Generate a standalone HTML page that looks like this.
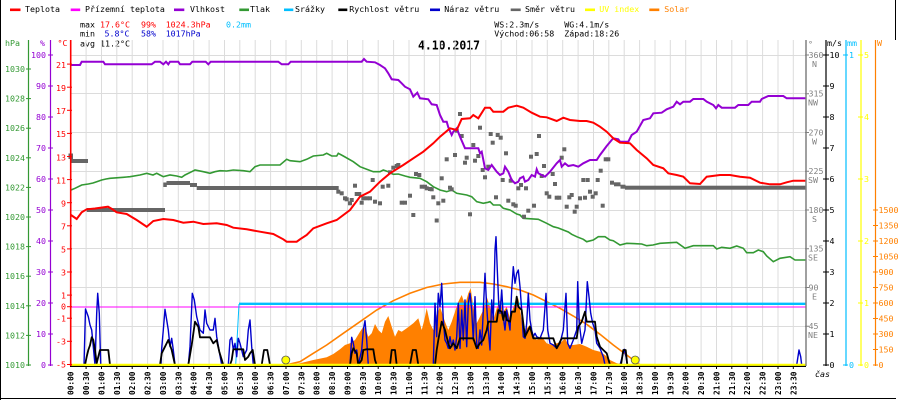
<!DOCTYPE html>
<html><head><meta charset="utf-8"><style>
html,body{margin:0;padding:0;background:#fff;}
svg{display:block;}
.t{font-family:"DejaVu Sans Mono","Liberation Mono",monospace;font-size:8.3px;}
.b{font-family:"DejaVu Sans Mono","Liberation Mono",monospace;font-size:8px;font-weight:bold;}
</style></head><body>
<svg width="900" height="400" viewBox="0 0 900 400" xmlns="http://www.w3.org/2000/svg">
<rect width="900" height="400" fill="#fff"/>
<!-- frame -->
<line x1="0.5" y1="0" x2="0.5" y2="400" stroke="#000"/>
<line x1="0" y1="398.5" x2="896" y2="398.5" stroke="#000"/>
<line x1="895.5" y1="0" x2="895.5" y2="40" stroke="#000"/>

<!-- legend -->
<g class="t">
<rect x="10" y="8.5" width="10.5" height="2.6" fill="#f00"/><text x="25" y="12">Teplota</text>
<rect x="70.7" y="8.5" width="9.5" height="2.6" fill="#f0f"/><text x="85" y="12">Přízemní teplota</text>
<rect x="174" y="8.5" width="10.3" height="2.6" fill="#9400d3"/><text x="190" y="12">Vlhkost</text>
<rect x="239.3" y="8.5" width="9.7" height="2.6" fill="#339933"/><text x="250" y="12">Tlak</text>
<rect x="284" y="8.5" width="9.3" height="2.6" fill="#00bfff"/><text x="295" y="12">Srážky</text>
<rect x="338.3" y="8.5" width="9" height="2.6" fill="#000"/><text x="349.3" y="12">Rychlost větru</text>
<rect x="430" y="8.5" width="10" height="2.6" fill="#0000cc"/><text x="444.3" y="12">Náraz větru</text>
<rect x="510.7" y="8.5" width="10" height="2.6" fill="#666"/><text x="525" y="12">Směr větru</text>
<rect x="585" y="8.5" width="10" height="2.6" fill="#ffff00"/><text x="599.3" y="12" fill="#ffff00">UV index</text>
<rect x="649.3" y="8.5" width="10" height="2.6" fill="#ff8000"/><text x="664.3" y="12" fill="#ff8000">Solar</text>

<text x="80" y="27.3">max</text><text x="100" y="27.3" fill="#f00">17.6°C</text><text x="141" y="27.3" fill="#f00">99%</text><text x="165.7" y="27.3" fill="#f00">1024.3hPa</text><text x="226" y="27.3" fill="#00bfff">0.2mm</text>
<text x="80" y="36.7">min</text><text x="104.5" y="36.7" fill="#0000cc">5.8°C</text><text x="141" y="36.7" fill="#0000cc">58%</text><text x="165.7" y="36.7" fill="#0000cc">1017hPa</text>
<text x="80" y="46.5">avg 11.2°C</text>
<text x="494.3" y="27.3">WS:2.3m/s</text><text x="564.3" y="27.3">WG:4.1m/s</text>
<text x="494.3" y="36.7">Východ:06:58</text><text x="564.3" y="36.7">Západ:18:26</text>
</g>
<text x="418" y="49.3" textLength="62" lengthAdjust="spacingAndGlyphs" style="font-family:'DejaVu Sans Mono','Liberation Mono',monospace;font-size:12px;font-weight:bold">4.10.2017</text>

<!-- grid -->
<g stroke="#dcdcdc" stroke-width="1">
<line x1="86.1" y1="40" x2="86.1" y2="365"/><line x1="101.5" y1="40" x2="101.5" y2="365"/><line x1="116.8" y1="40" x2="116.8" y2="365"/><line x1="132.2" y1="40" x2="132.2" y2="365"/><line x1="147.6" y1="40" x2="147.6" y2="365"/><line x1="163" y1="40" x2="163" y2="365"/><line x1="178.3" y1="40" x2="178.3" y2="365"/><line x1="193.7" y1="40" x2="193.7" y2="365"/><line x1="209.1" y1="40" x2="209.1" y2="365"/><line x1="224.5" y1="40" x2="224.5" y2="365"/><line x1="239.8" y1="40" x2="239.8" y2="365"/><line x1="255.2" y1="40" x2="255.2" y2="365"/><line x1="270.6" y1="40" x2="270.6" y2="365"/><line x1="286" y1="40" x2="286" y2="365"/><line x1="301.3" y1="40" x2="301.3" y2="365"/><line x1="316.7" y1="40" x2="316.7" y2="365"/><line x1="332.1" y1="40" x2="332.1" y2="365"/><line x1="347.5" y1="40" x2="347.5" y2="365"/><line x1="362.8" y1="40" x2="362.8" y2="365"/><line x1="378.2" y1="40" x2="378.2" y2="365"/><line x1="393.6" y1="40" x2="393.6" y2="365"/><line x1="409" y1="40" x2="409" y2="365"/><line x1="424.3" y1="40" x2="424.3" y2="365"/><line x1="439.7" y1="40" x2="439.7" y2="365"/><line x1="455.1" y1="40" x2="455.1" y2="365"/><line x1="470.5" y1="40" x2="470.5" y2="365"/><line x1="485.8" y1="40" x2="485.8" y2="365"/><line x1="501.2" y1="40" x2="501.2" y2="365"/><line x1="516.6" y1="40" x2="516.6" y2="365"/><line x1="532" y1="40" x2="532" y2="365"/><line x1="547.3" y1="40" x2="547.3" y2="365"/><line x1="562.7" y1="40" x2="562.7" y2="365"/><line x1="578.1" y1="40" x2="578.1" y2="365"/><line x1="593.5" y1="40" x2="593.5" y2="365"/><line x1="608.8" y1="40" x2="608.8" y2="365"/><line x1="624.2" y1="40" x2="624.2" y2="365"/><line x1="639.6" y1="40" x2="639.6" y2="365"/><line x1="655" y1="40" x2="655" y2="365"/><line x1="670.3" y1="40" x2="670.3" y2="365"/><line x1="685.7" y1="40" x2="685.7" y2="365"/><line x1="701.1" y1="40" x2="701.1" y2="365"/><line x1="716.5" y1="40" x2="716.5" y2="365"/><line x1="731.8" y1="40" x2="731.8" y2="365"/><line x1="747.2" y1="40" x2="747.2" y2="365"/><line x1="762.6" y1="40" x2="762.6" y2="365"/><line x1="778" y1="40" x2="778" y2="365"/><line x1="793.3" y1="40" x2="793.3" y2="365"/>
<line x1="71" y1="55.5" x2="806" y2="55.5"/><line x1="71" y1="93.5" x2="806" y2="93.5"/><line x1="71" y1="132.5" x2="806" y2="132.5"/><line x1="71" y1="171.5" x2="806" y2="171.5"/><line x1="71" y1="210.5" x2="806" y2="210.5"/><line x1="71" y1="248.5" x2="806" y2="248.5"/><line x1="71" y1="287.5" x2="806" y2="287.5"/><line x1="71" y1="326.5" x2="806" y2="326.5"/>
</g>

<!-- solar fill -->
<polygon fill="#ff8000" points="285,365 300,363.3 313.3,360 326.7,357.3 333.3,354 340,349.3 345,345 350,343.3 355,340 360,331.7 363.3,326.7 366,330 368.3,336.7 371.7,333.3 375,324 378.3,330 381.7,333.3 385,321.7 388.3,316 391.7,326.7 395,336.7 398.3,330 401.7,331.7 406.7,328.3 413.3,323.3 418.3,318.3 421.7,330 424.3,320 426.7,308.3 430,323.3 433.3,330 436.7,315 440,306.7 445,321.7 448.3,330 451.7,321.7 455,311.7 458.3,301.7 461.7,295 465,305 468.3,293.3 470.7,288.3 473.3,306.7 476.7,323.3 480,316.7 483.3,310 486.7,296.7 490,306.7 493.3,320 496.7,308.3 500,300 503.3,311.7 506.7,306.7 510,318.3 515,301.7 518.3,298.3 521.7,320 525,330 530,325 533.3,335 536.7,340 541.7,336.7 546.7,343.3 551.7,345 556.7,343.3 561.7,341.7 565,338.3 568.3,345 573.3,345 580,344 586.7,346.7 593.3,350 600,351.7 605,355 610,360 616.7,363.3 626.7,365"/>
<polyline fill="none" stroke="#ff8000" stroke-width="1.6" points="285,365 290,364 300,361.7 313.3,353.3 326.7,345 343.3,333.3 360,321.7 376.7,310 393.3,300.7 410,293.3 426.7,287.5 443.3,284 460,282.3 480,282.3 493.3,284 506.7,286.7 520,290 533.3,295 546.7,301.7 560,308.3 573.3,316 586.7,324.3 600,334.3 613.3,345 626.7,355 640,365"/>

<!-- magenta 0 line & rain -->
<line x1="71" y1="307" x2="806" y2="307" stroke="#f0f" stroke-width="1"/>
<polyline fill="none" stroke="#00bfff" stroke-width="1" points="235.7,365 239,304"/>
<line x1="239" y1="303.8" x2="806" y2="303.8" stroke="#00bfff" stroke-width="2.4"/>

<!-- gusts -->
<polyline fill="none" stroke="#0000cc" stroke-width="1.4" stroke-linejoin="round" points="71,365 84,365 85.5,309 88.3,316.7 90,325 91.7,330 93.3,346.7 95,365 96.7,313.3 97.7,293.3 99.3,313.3 100.7,365 161,365 161.7,348.3 163.3,330 165,309.3 166.7,320 168.3,330 170,346.7 171.7,338.3 173.3,350 175,365 188.3,365 190,346.7 192.3,293.3 194.3,300 196.7,316.7 200,330 203.3,333.3 205,310 206.7,323.3 210,330 213.3,330 215,318.3 216.7,336.7 219.3,351.7 221.7,365 228.3,365 230,340 231.7,337.3 233.3,350 235,343.3 236.7,356.7 238.3,338.3 240,343.3 243.3,356.7 246.7,350 248.3,330 250,320 251.7,346.7 253.3,365 350,365 351.7,337.3 353.3,343.3 355,353.3 356.7,350 358.3,365 361.7,350 363.3,330 365,320.7 366.7,340 368.3,365 433.3,365 435,303.3 436.7,336.7 438.3,293.3 440,306.7 441.7,283.3 443.3,320 445,340 446.7,343.3 448.3,348.3 450,336.7 451.7,346.7 453.3,340 455,350 456.7,336.7 458.3,303.3 460,348.3 461.7,310 463.3,340 465,300 466.7,346.7 468.3,303.3 470,293.3 471.7,310 473.3,340 475,296.7 476.7,343.3 478.3,348.3 480,330 481.7,345 483.3,310 485,273.3 486.7,306.7 488.3,330 490,350 491.7,300 493.3,320 495,250 496,236.7 497.3,270 498.7,303.3 500,313.3 501.7,290 503.3,316.7 505,330 506.7,310 508.3,320 510,330 511.7,290 513.3,266.7 515,283.3 516.7,273.3 518.3,270 520,286.7 521.7,310 523.3,336.7 525,338.3 526.7,323.3 528.3,293.3 530,320 531.7,330 533.3,336.7 535,333.3 536.7,336.7 540,338.3 543.3,330 546,293.3 547.7,330 550,343.3 553.3,345 556.7,348.3 560,343.3 563.3,330 566,293.3 567.7,343.3 570,348.3 573.3,340 576.7,330 577.7,281.7 579.3,323.3 581.7,343.3 585,330 587.3,281.7 589,296.7 590.7,313.3 592.7,323.3 595,330 596.7,343.3 600,348.3 603.3,356.7 605,365 620,365 622.7,355 624.3,349.3 626,356.7 627.3,365 796.7,365 799,350 800.7,356.7 801.7,365 806,365"/>

<!-- wind speed -->
<polyline fill="none" stroke="#000" stroke-width="1.8" stroke-linejoin="round" points="71,365 85,365 86.7,356.7 88.3,350 90,345.3 91.7,337.3 93.3,340 95,350 96.7,363.3 98.3,356.7 100,350 108.3,350 110,365 160,365 161.7,353.3 165,346.7 168.3,340 171.7,350 175,365 188.3,365 191.7,345 195,321.7 198.3,326.7 200,337.3 210,337.3 213.3,343.3 216.7,340 219.3,351.7 223.3,365 230,365 231.7,360 233.3,349.3 243.3,349.3 245,360 248.3,356.7 250,353.3 252.7,350 255,365 261.7,365 264,350 267.3,350 270,365 350,365 351.7,353.3 353.3,348.3 356.7,353.3 358.3,365 361.7,360 363.3,350 366.7,349.3 373.3,349.3 375,360 376.7,365 390,365 391.7,350 395,350 396.7,365 410,365 412.7,350 416,350 418.3,365 435,365 436.7,350 438.3,340 441.7,321.7 445,330 448.3,343.3 450,348.3 453.3,343.3 456.7,348.3 460,338.3 473.3,338.3 476.7,348.3 480,343.3 483.3,340 486.7,330 488.3,321.7 496.7,321.7 498.3,310 501.7,311.7 503.3,320 505,311.7 506.7,320 510,321.7 511.7,311.7 515,311.7 516.7,296.7 518.3,306.7 521.7,310 523.3,323.3 525,336.7 528.3,330 530,326.7 533.3,338.3 553.3,338.3 555,343.3 556.7,348.3 559.3,343.3 561.7,338.3 576.7,338.3 578.3,326.7 581.7,321.7 585,311.7 586.7,321.7 595,321.7 596.7,336.7 600,346.7 603.3,350 606.7,353.3 610,365 621,365 623.3,350 625.7,350 627.3,365 806,365"/>

<!-- pressure -->
<polyline fill="none" stroke="#339933" stroke-width="1.6" points="71,190 75,188.3 81.7,185 88.3,184 93,183 96.7,181.7 101.7,180 106,179 110,178.3 123.3,177.3 130,176.7 140,175 146.7,173.3 153,175 156.7,173.3 160,175 163.3,176.7 170,175 176.7,176 181.7,177.3 185,175 191.7,171.7 195,170 203.3,171.7 210,173.3 215,171.7 220,170.7 226.7,171 233.3,170 243.3,170.7 250,171.7 255,166.7 260,165 280,165 286.7,159.3 290,160.7 300,161.7 306.7,159.3 313.3,156 323.3,155 326.7,153.3 331.7,156 336.7,156 338.3,153.3 343.3,156 353.3,161.7 360,166.7 366.7,169.3 373.3,171.7 380,171.7 383.3,170 388.3,171.7 393.3,174.3 398.3,174 405,176 410,177.3 420,178.3 426.7,181.7 433.3,186.7 440,190 446.7,191.7 451.7,190 456.7,193.3 466.7,195 471.7,196.7 476.7,201.7 483.3,203.3 488,202.3 490,201.7 493.3,205 500,205 503.3,208.3 510,210 516.7,214 520,215 523.3,218.3 538.3,219.3 546.7,223.3 553.3,226.7 558.3,228 563.3,230 568.3,232 571.7,234.3 576.7,236.7 583.3,239.3 586.7,241.7 593.3,240 598.3,236.7 605,236.7 610,240 613.3,240.7 620,245 626.7,243.3 641.7,244 646.7,245.7 653,245 660,243.3 676.7,242.3 685,248.3 693.3,245.7 713.3,245.7 716.7,249 721.7,247.3 730,248.3 736.7,246 743.3,248.3 746.7,252.7 753.3,252.7 758.3,250 763.3,251.7 766.7,256 773.3,261.7 780,258.3 790,256.7 795,260 806,260"/>

<!-- wind direction -->
<g fill="#666">
<rect x="68.5" y="153.5" width="4.5" height="5.5"/>
<rect x="71" y="159" width="17" height="4"/>
<rect x="86.7" y="208" width="78.3" height="4"/>
<rect x="163.3" y="182.5" width="3.5" height="4.5"/>
<rect x="166.5" y="181" width="23.5" height="4"/>
<rect x="190" y="183" width="7" height="4"/>
<rect x="196.7" y="186" width="142" height="4"/>
<rect x="610" y="180.7" width="4" height="4"/>
<rect x="614" y="182.3" width="6.5" height="4"/>
<rect x="620.5" y="184.7" width="5" height="4"/>
<rect x="625" y="185.7" width="181" height="4"/>
</g>
<g fill="#666" id="sq">
<rect x="336.3" y="189.7" width="4" height="4"/><rect x="339.7" y="191.3" width="4" height="4"/><rect x="343" y="196.3" width="4" height="4"/><rect x="344.7" y="197.3" width="4" height="4"/><rect x="348" y="201.3" width="4" height="4"/><rect x="349.7" y="198" width="4" height="4"/><rect x="353" y="183.7" width="4" height="4"/><rect x="354.7" y="192" width="4" height="4"/><rect x="357.3" y="192" width="4" height="4"/><rect x="359.7" y="200.7" width="4" height="4"/><rect x="361.3" y="196.3" width="4" height="4"/><rect x="364.7" y="196.3" width="4" height="4"/><rect x="368" y="196.3" width="4" height="4"/><rect x="370.7" y="178" width="4" height="4"/><rect x="373" y="199.7" width="4" height="4"/><rect x="378" y="201.3" width="4" height="4"/><rect x="380.7" y="184.7" width="4" height="4"/><rect x="386.3" y="183.7" width="4" height="4"/><rect x="388" y="170.3" width="4" height="4"/><rect x="391.3" y="165.7" width="4" height="4"/><rect x="394.7" y="164" width="4" height="4"/><rect x="396.3" y="163" width="4" height="4"/><rect x="399.7" y="200.7" width="4" height="4"/><rect x="403" y="200.7" width="4" height="4"/><rect x="408" y="193.7" width="4" height="4"/><rect x="411.3" y="213" width="4" height="4"/><rect x="414" y="172" width="4" height="4"/><rect x="417.3" y="173" width="4" height="4"/><rect x="419.7" y="184.7" width="4" height="4"/><rect x="423" y="184.7" width="4" height="4"/><rect x="424.7" y="186.3" width="4" height="4"/><rect x="428" y="187" width="4" height="4"/><rect x="429.7" y="187.3" width="4" height="4"/><rect x="431.3" y="195.3" width="4" height="4"/><rect x="434.7" y="218.5" width="4" height="4"/><rect x="436.3" y="201.3" width="4" height="4"/><rect x="439.7" y="176.3" width="4" height="4"/><rect x="441.3" y="198.7" width="4" height="4"/><rect x="444.7" y="157.3" width="4" height="4"/><rect x="448" y="185.7" width="4" height="4"/><rect x="449.7" y="187.3" width="4" height="4"/><rect x="453" y="153" width="4" height="4"/><rect x="454.7" y="128.7" width="4" height="4"/><rect x="458" y="112" width="4" height="4"/><rect x="459.7" y="134" width="4" height="4"/><rect x="463" y="160.7" width="4" height="4"/><rect x="464.7" y="155.7" width="4" height="4"/><rect x="468" y="212.3" width="4" height="4"/><rect x="471.3" y="143" width="4" height="4"/><rect x="473" y="158.7" width="4" height="4"/><rect x="476.3" y="154" width="4" height="4"/><rect x="478" y="125.7" width="4" height="4"/><rect x="480.7" y="168" width="4" height="4"/><rect x="483" y="175.3" width="4" height="4"/><rect x="486.3" y="164.7" width="4" height="4"/><rect x="488.7" y="132" width="4" height="4"/><rect x="490.7" y="140.7" width="4" height="4"/><rect x="494" y="195.3" width="4" height="4"/><rect x="495.7" y="133" width="4" height="4"/><rect x="498.7" y="135.7" width="4" height="4"/><rect x="500.7" y="178" width="4" height="4"/><rect x="504" y="151.3" width="4" height="4"/><rect x="506.3" y="198.7" width="4" height="4"/><rect x="508.7" y="178.7" width="4" height="4"/><rect x="511.3" y="202.3" width="4" height="4"/><rect x="513.7" y="203.7" width="4" height="4"/><rect x="516.3" y="186.3" width="4" height="4"/><rect x="519" y="183" width="4" height="4"/><rect x="522" y="214.7" width="4" height="4"/><rect x="524" y="186.3" width="4" height="4"/><rect x="526.3" y="208.7" width="4" height="4"/><rect x="529" y="154.7" width="4" height="4"/><rect x="532" y="203.7" width="4" height="4"/><rect x="534.7" y="152" width="4" height="4"/><rect x="537" y="134" width="4" height="4"/><rect x="539.7" y="174" width="4" height="4"/><rect x="542" y="164" width="4" height="4"/><rect x="544.7" y="191.3" width="4" height="4"/><rect x="547.3" y="194.7" width="4" height="4"/><rect x="550.7" y="172" width="4" height="4"/><rect x="553" y="182" width="4" height="4"/><rect x="554.7" y="195.7" width="4" height="4"/><rect x="557.3" y="195.7" width="4" height="4"/><rect x="559.7" y="155.7" width="4" height="4"/><rect x="562.3" y="147.3" width="4" height="4"/><rect x="564.7" y="204.7" width="4" height="4"/><rect x="567.3" y="195.3" width="4" height="4"/><rect x="569.7" y="193" width="4" height="4"/><rect x="572.7" y="209.7" width="4" height="4"/><rect x="574.7" y="204.7" width="4" height="4"/><rect x="578" y="196.3" width="4" height="4"/><rect x="581.3" y="178" width="4" height="4"/><rect x="583" y="195.7" width="4" height="4"/><rect x="585.7" y="178" width="4" height="4"/><rect x="588" y="189.7" width="4" height="4"/><rect x="590.7" y="194.7" width="4" height="4"/><rect x="593.7" y="191.3" width="4" height="4"/><rect x="595.7" y="178" width="4" height="4"/><rect x="598.7" y="168.7" width="4" height="4"/><rect x="600.7" y="203.7" width="4" height="4"/><rect x="603.7" y="157.3" width="4" height="4"/><rect x="606.3" y="157.3" width="4" height="4"/>
</g>

<!-- humidity -->
<polyline fill="none" stroke="#9400d3" stroke-width="2" points="71,65 80,65 81.7,61.7 103.3,61.7 105,64.3 151.7,64.3 155,61.7 160,61.7 163.3,64.3 166,61.7 168.3,64.3 170,61.7 178.3,61.7 180,64.3 190,64.3 192.3,61.7 205.7,61.7 208.3,64.3 210.7,61.7 278.3,61.7 281.7,64.3 288.3,64.3 290.7,61.7 361.7,61.7 364,59 366.7,61.7 375,62.3 380,65 385,68.3 388.3,73.3 391.7,79.3 398.3,80 401.7,83.3 405,86.7 410,89.3 413.3,96.7 417.3,92.7 420,98.3 428.3,99.3 431.7,104.3 436.7,105 440,115 443.3,121.7 446.7,121.7 448.3,127.3 451.7,135 453.3,131.7 456.7,128.3 460,136.7 465,148.3 478.3,148.3 480,153.3 481.7,151.7 485,168.3 488.3,170 491.7,165 496.7,171.7 500,175 503.3,173.3 505,166.7 508.3,171.7 511.7,180 515,183.3 518.3,181.7 520,178.3 523.3,176.7 525,181.7 528.3,180 531.7,175 535,176.7 536.7,169.3 538.3,173.3 541.7,175 545,176.7 550,171.7 556.7,163.3 560,160 561.7,166.7 565,163.3 568.3,166 573.3,165 578.3,166.7 583.3,163.3 590,160 596.7,160 600,155 606.7,146 611.7,140 613.3,138.3 618.3,139.3 620,141.7 628.3,141.7 631.7,135 636.7,131.7 643.3,120 650,118.3 653.3,113.3 661.7,112.7 666.7,109.3 673.3,106.7 676.7,101.7 680,104.3 683.3,101.7 690,101.7 693.3,99 703.3,99 706.7,101.7 713.3,105 716,108.3 718.3,105 721.7,107.7 735,107.7 738.3,105 748.3,105 751.7,101.7 760,101.7 761.7,99 768.3,96 783.3,96 786.7,98.3 806,98.3"/>

<!-- temperature -->
<polyline fill="none" stroke="#f00" stroke-width="2" points="71,215 76.7,219 81.7,212.3 86.7,209.3 95,208.5 108,206.7 112,209 116.7,212.3 126.7,214 136.7,220 146.7,226.7 153.3,221 163.3,219 173.3,220 183.3,222.7 193.3,221.7 203.3,224 216.7,223.3 226.7,225 233.3,227.7 246.7,229.3 260,231.7 273.3,234 283.3,239.3 286.7,241.7 296.7,241.7 300,239.3 306.7,235 313.3,228.3 326.7,223.3 336.7,220 350,210 360,196.7 370,191.7 380,181.7 390,173.3 403.3,165 413.3,158.3 423.3,151.7 433.3,143.3 440,136.7 450,128.3 456.7,130 461.7,119 470,118.3 473.3,115 478.3,118.3 485,107.7 490,107.7 493.3,111.7 503.3,111.7 508.3,107.7 516.7,105.7 523.3,107.7 531.7,112.7 540,116.7 546.7,117.3 556.7,121 563.3,117.7 570,120 580,121 586.7,121 593.3,122.7 600,126.7 606.7,131.7 613.3,138.3 620,142.7 630,143.3 636.7,150 646.7,158.3 653.3,165 663.3,168.3 668.3,173.3 676.7,175 683.3,176.7 690,183.3 700,184 706.7,176.7 720,175 730,175 740,176.7 750,177.7 760,182.7 770,184.3 780,184.3 786.7,182.3 793.3,180.7 806,180.7"/>

<!-- UV / bottom axis -->
<line x1="70" y1="366.5" x2="806" y2="366.5" stroke="#000" stroke-width="1"/>
<line x1="70" y1="364.8" x2="806" y2="364.8" stroke="#ffff00" stroke-width="2.2"/>
<circle cx="285.8" cy="360" r="4" fill="#ffff00" stroke="#555" stroke-width="0.8"/>
<circle cx="635.2" cy="360" r="4" fill="#ffff00" stroke="#555" stroke-width="0.8"/>
<g stroke="#000" stroke-width="1">
<line x1="86.1" y1="366" x2="86.1" y2="369"/><line x1="101.5" y1="366" x2="101.5" y2="369"/><line x1="116.8" y1="366" x2="116.8" y2="369"/><line x1="132.2" y1="366" x2="132.2" y2="369"/><line x1="147.6" y1="366" x2="147.6" y2="369"/><line x1="163" y1="366" x2="163" y2="369"/><line x1="178.3" y1="366" x2="178.3" y2="369"/><line x1="193.7" y1="366" x2="193.7" y2="369"/><line x1="209.1" y1="366" x2="209.1" y2="369"/><line x1="224.5" y1="366" x2="224.5" y2="369"/><line x1="239.8" y1="366" x2="239.8" y2="369"/><line x1="255.2" y1="366" x2="255.2" y2="369"/><line x1="270.6" y1="366" x2="270.6" y2="369"/><line x1="286" y1="366" x2="286" y2="369"/><line x1="301.3" y1="366" x2="301.3" y2="369"/><line x1="316.7" y1="366" x2="316.7" y2="369"/><line x1="332.1" y1="366" x2="332.1" y2="369"/><line x1="347.5" y1="366" x2="347.5" y2="369"/><line x1="362.8" y1="366" x2="362.8" y2="369"/><line x1="378.2" y1="366" x2="378.2" y2="369"/><line x1="393.6" y1="366" x2="393.6" y2="369"/><line x1="409" y1="366" x2="409" y2="369"/><line x1="424.3" y1="366" x2="424.3" y2="369"/><line x1="439.7" y1="366" x2="439.7" y2="369"/><line x1="455.1" y1="366" x2="455.1" y2="369"/><line x1="470.5" y1="366" x2="470.5" y2="369"/><line x1="485.8" y1="366" x2="485.8" y2="369"/><line x1="501.2" y1="366" x2="501.2" y2="369"/><line x1="516.6" y1="366" x2="516.6" y2="369"/><line x1="532" y1="366" x2="532" y2="369"/><line x1="547.3" y1="366" x2="547.3" y2="369"/><line x1="562.7" y1="366" x2="562.7" y2="369"/><line x1="578.1" y1="366" x2="578.1" y2="369"/><line x1="593.5" y1="366" x2="593.5" y2="369"/><line x1="608.8" y1="366" x2="608.8" y2="369"/><line x1="624.2" y1="366" x2="624.2" y2="369"/><line x1="639.6" y1="366" x2="639.6" y2="369"/><line x1="655" y1="366" x2="655" y2="369"/><line x1="670.3" y1="366" x2="670.3" y2="369"/><line x1="685.7" y1="366" x2="685.7" y2="369"/><line x1="701.1" y1="366" x2="701.1" y2="369"/><line x1="716.5" y1="366" x2="716.5" y2="369"/><line x1="731.8" y1="366" x2="731.8" y2="369"/><line x1="747.2" y1="366" x2="747.2" y2="369"/><line x1="762.6" y1="366" x2="762.6" y2="369"/><line x1="778" y1="366" x2="778" y2="369"/><line x1="793.3" y1="366" x2="793.3" y2="369"/>
</g>

<!-- x labels -->
<g class="b">
<text transform="translate(73.7,395) rotate(-90)" textLength="23.5" lengthAdjust="spacingAndGlyphs">00:00</text>
<text transform="translate(89.1,395) rotate(-90)" textLength="23.5" lengthAdjust="spacingAndGlyphs">00:30</text>
<text transform="translate(104.5,395) rotate(-90)" textLength="23.5" lengthAdjust="spacingAndGlyphs">01:00</text>
<text transform="translate(119.8,395) rotate(-90)" textLength="23.5" lengthAdjust="spacingAndGlyphs">01:30</text>
<text transform="translate(135.2,395) rotate(-90)" textLength="23.5" lengthAdjust="spacingAndGlyphs">02:00</text>
<text transform="translate(150.6,395) rotate(-90)" textLength="23.5" lengthAdjust="spacingAndGlyphs">02:30</text>
<text transform="translate(166,395) rotate(-90)" textLength="23.5" lengthAdjust="spacingAndGlyphs">03:00</text>
<text transform="translate(181.3,395) rotate(-90)" textLength="23.5" lengthAdjust="spacingAndGlyphs">03:30</text>
<text transform="translate(196.7,395) rotate(-90)" textLength="23.5" lengthAdjust="spacingAndGlyphs">04:00</text>
<text transform="translate(212.1,395) rotate(-90)" textLength="23.5" lengthAdjust="spacingAndGlyphs">04:30</text>
<text transform="translate(227.5,395) rotate(-90)" textLength="23.5" lengthAdjust="spacingAndGlyphs">05:00</text>
<text transform="translate(242.8,395) rotate(-90)" textLength="23.5" lengthAdjust="spacingAndGlyphs">05:30</text>
<text transform="translate(258.2,395) rotate(-90)" textLength="23.5" lengthAdjust="spacingAndGlyphs">06:00</text>
<text transform="translate(273.6,395) rotate(-90)" textLength="23.5" lengthAdjust="spacingAndGlyphs">06:30</text>
<text transform="translate(289,395) rotate(-90)" textLength="23.5" lengthAdjust="spacingAndGlyphs">07:00</text>
<text transform="translate(304.3,395) rotate(-90)" textLength="23.5" lengthAdjust="spacingAndGlyphs">07:30</text>
<text transform="translate(319.7,395) rotate(-90)" textLength="23.5" lengthAdjust="spacingAndGlyphs">08:00</text>
<text transform="translate(335.1,395) rotate(-90)" textLength="23.5" lengthAdjust="spacingAndGlyphs">08:30</text>
<text transform="translate(350.5,395) rotate(-90)" textLength="23.5" lengthAdjust="spacingAndGlyphs">09:00</text>
<text transform="translate(365.8,395) rotate(-90)" textLength="23.5" lengthAdjust="spacingAndGlyphs">09:30</text>
<text transform="translate(381.2,395) rotate(-90)" textLength="23.5" lengthAdjust="spacingAndGlyphs">10:00</text>
<text transform="translate(396.6,395) rotate(-90)" textLength="23.5" lengthAdjust="spacingAndGlyphs">10:30</text>
<text transform="translate(412,395) rotate(-90)" textLength="23.5" lengthAdjust="spacingAndGlyphs">11:00</text>
<text transform="translate(427.3,395) rotate(-90)" textLength="23.5" lengthAdjust="spacingAndGlyphs">11:30</text>
<text transform="translate(442.7,395) rotate(-90)" textLength="23.5" lengthAdjust="spacingAndGlyphs">12:00</text>
<text transform="translate(458.1,395) rotate(-90)" textLength="23.5" lengthAdjust="spacingAndGlyphs">12:30</text>
<text transform="translate(473.5,395) rotate(-90)" textLength="23.5" lengthAdjust="spacingAndGlyphs">13:00</text>
<text transform="translate(488.8,395) rotate(-90)" textLength="23.5" lengthAdjust="spacingAndGlyphs">13:30</text>
<text transform="translate(504.2,395) rotate(-90)" textLength="23.5" lengthAdjust="spacingAndGlyphs">14:00</text>
<text transform="translate(519.6,395) rotate(-90)" textLength="23.5" lengthAdjust="spacingAndGlyphs">14:30</text>
<text transform="translate(535,395) rotate(-90)" textLength="23.5" lengthAdjust="spacingAndGlyphs">15:00</text>
<text transform="translate(550.3,395) rotate(-90)" textLength="23.5" lengthAdjust="spacingAndGlyphs">15:30</text>
<text transform="translate(565.7,395) rotate(-90)" textLength="23.5" lengthAdjust="spacingAndGlyphs">16:00</text>
<text transform="translate(581.1,395) rotate(-90)" textLength="23.5" lengthAdjust="spacingAndGlyphs">16:30</text>
<text transform="translate(596.5,395) rotate(-90)" textLength="23.5" lengthAdjust="spacingAndGlyphs">17:00</text>
<text transform="translate(611.8,395) rotate(-90)" textLength="23.5" lengthAdjust="spacingAndGlyphs">17:30</text>
<text transform="translate(627.2,395) rotate(-90)" textLength="23.5" lengthAdjust="spacingAndGlyphs">18:00</text>
<text transform="translate(642.6,395) rotate(-90)" textLength="23.5" lengthAdjust="spacingAndGlyphs">18:30</text>
<text transform="translate(658,395) rotate(-90)" textLength="23.5" lengthAdjust="spacingAndGlyphs">19:00</text>
<text transform="translate(673.3,395) rotate(-90)" textLength="23.5" lengthAdjust="spacingAndGlyphs">19:30</text>
<text transform="translate(688.7,395) rotate(-90)" textLength="23.5" lengthAdjust="spacingAndGlyphs">20:00</text>
<text transform="translate(704.1,395) rotate(-90)" textLength="23.5" lengthAdjust="spacingAndGlyphs">20:30</text>
<text transform="translate(719.5,395) rotate(-90)" textLength="23.5" lengthAdjust="spacingAndGlyphs">21:00</text>
<text transform="translate(734.8,395) rotate(-90)" textLength="23.5" lengthAdjust="spacingAndGlyphs">21:30</text>
<text transform="translate(750.2,395) rotate(-90)" textLength="23.5" lengthAdjust="spacingAndGlyphs">22:00</text>
<text transform="translate(765.6,395) rotate(-90)" textLength="23.5" lengthAdjust="spacingAndGlyphs">22:30</text>
<text transform="translate(781,395) rotate(-90)" textLength="23.5" lengthAdjust="spacingAndGlyphs">23:00</text>
<text transform="translate(796.3,395) rotate(-90)" textLength="23.5" lengthAdjust="spacingAndGlyphs">23:30</text>
</g>
<text x="815" y="377" class="t" font-style="italic">čas</text>

<!-- left axes -->
<g class="t">
<text x="5" y="46" fill="#339933">hPa</text>
<text x="40" y="46" fill="#9400d3">%</text>
<text x="57.5" y="46" fill="#f00">°C</text>
</g>
<line x1="28.5" y1="40" x2="28.5" y2="366" stroke="#339933" stroke-width="1.2"/>
<line x1="50.5" y1="40" x2="50.5" y2="366" stroke="#9400d3" stroke-width="1.2"/>
<line x1="70.7" y1="40" x2="70.7" y2="366" stroke="#f00" stroke-width="1.6"/>
<g stroke="#339933"><line x1="26" y1="69" x2="31" y2="69"/><line x1="26" y1="98.6" x2="31" y2="98.6"/><line x1="26" y1="128.2" x2="31" y2="128.2"/><line x1="26" y1="157.8" x2="31" y2="157.8"/><line x1="26" y1="187.4" x2="31" y2="187.4"/><line x1="26" y1="217" x2="31" y2="217"/><line x1="26" y1="246.6" x2="31" y2="246.6"/><line x1="26" y1="276.2" x2="31" y2="276.2"/><line x1="26" y1="305.8" x2="31" y2="305.8"/><line x1="26" y1="335.4" x2="31" y2="335.4"/><line x1="26" y1="365" x2="31" y2="365"/></g>
<g class="t" fill="#339933" text-anchor="end"><text x="25" y="72">1030</text><text x="25" y="101.6">1028</text><text x="25" y="131.2">1026</text><text x="25" y="160.8">1024</text><text x="25" y="190.4">1022</text><text x="25" y="220">1020</text><text x="25" y="249.6">1018</text><text x="25" y="279.2">1016</text><text x="25" y="308.8">1014</text><text x="25" y="338.4">1012</text><text x="25" y="368">1010</text></g>
<g stroke="#9400d3"><line x1="48" y1="55" x2="53" y2="55"/><line x1="48" y1="86" x2="53" y2="86"/><line x1="48" y1="117" x2="53" y2="117"/><line x1="48" y1="148" x2="53" y2="148"/><line x1="48" y1="179" x2="53" y2="179"/><line x1="48" y1="210" x2="53" y2="210"/><line x1="48" y1="241" x2="53" y2="241"/><line x1="48" y1="272" x2="53" y2="272"/><line x1="48" y1="303" x2="53" y2="303"/><line x1="48" y1="334" x2="53" y2="334"/><line x1="48" y1="365" x2="53" y2="365"/></g>
<g class="t" fill="#9400d3" text-anchor="end"><text x="46" y="58">100</text><text x="46" y="89">90</text><text x="46" y="120">80</text><text x="46" y="151">70</text><text x="46" y="182">60</text><text x="46" y="213">50</text><text x="46" y="244">40</text><text x="46" y="275">30</text><text x="46" y="306">20</text><text x="46" y="337">10</text><text x="46" y="368">0</text></g>
<g stroke="#f00"><line x1="67" y1="64.1" x2="72" y2="64.1"/><line x1="67" y1="87.2" x2="72" y2="87.2"/><line x1="67" y1="110.3" x2="72" y2="110.3"/><line x1="67" y1="133.4" x2="72" y2="133.4"/><line x1="67" y1="156.5" x2="72" y2="156.5"/><line x1="67" y1="179.6" x2="72" y2="179.6"/><line x1="67" y1="202.7" x2="72" y2="202.7"/><line x1="67" y1="225.8" x2="72" y2="225.8"/><line x1="67" y1="248.9" x2="72" y2="248.9"/><line x1="67" y1="272" x2="72" y2="272"/><line x1="67" y1="295.1" x2="72" y2="295.1"/><line x1="67" y1="306.7" x2="72" y2="306.7"/><line x1="67" y1="318.2" x2="72" y2="318.2"/><line x1="67" y1="341.3" x2="72" y2="341.3"/><line x1="67" y1="364.5" x2="72" y2="364.5"/></g>
<g class="t" fill="#f00" text-anchor="end"><text x="66" y="68">21</text><text x="66" y="91">19</text><text x="66" y="114">17</text><text x="66" y="137">15</text><text x="66" y="160.5">13</text><text x="66" y="183.5">11</text><text x="66" y="206.5">9</text><text x="66" y="229.5">7</text><text x="66" y="252.5">5</text><text x="66" y="275.5">3</text><text x="66" y="298.5">1</text><text x="66" y="309.7">0</text><text x="66" y="321.5">-1</text><text x="66" y="344.5">-3</text><text x="66" y="367.5">-5</text></g>

<!-- right axes -->
<line x1="806" y1="40" x2="806" y2="366" stroke="#808080" stroke-width="1.5"/>
<line x1="826" y1="40" x2="826" y2="366" stroke="#000" stroke-width="1.2"/>
<line x1="846" y1="40" x2="846" y2="366" stroke="#00bfff" stroke-width="1.2"/>
<line x1="861" y1="40" x2="861" y2="366" stroke="#ffff00" stroke-width="1.2"/>
<line x1="875.5" y1="40" x2="875.5" y2="366" stroke="#ff8000" stroke-width="1.2"/>
<g class="t">
<text x="808" y="47" fill="#808080">°</text>
<text x="827" y="46">m/s</text>
<text x="847" y="46" fill="#00bfff">mm</text>
<text x="877" y="46" fill="#ff8000">W</text>
</g>
<g stroke="#808080"><line x1="805" y1="55" x2="809" y2="55"/><line x1="805" y1="93.75" x2="809" y2="93.75"/><line x1="805" y1="132.5" x2="809" y2="132.5"/><line x1="805" y1="171.25" x2="809" y2="171.25"/><line x1="805" y1="210" x2="809" y2="210"/><line x1="805" y1="248.75" x2="809" y2="248.75"/><line x1="805" y1="287.5" x2="809" y2="287.5"/><line x1="805" y1="326.25" x2="809" y2="326.25"/></g>
<g class="t" fill="#808080">
<text x="808.5" y="58">360</text><text x="808.5" y="96.7">315</text><text x="808.5" y="135.5">270</text><text x="808.5" y="174.2">225</text><text x="808.5" y="213">180</text><text x="808.5" y="251.7">135</text><text x="808.5" y="290.5">90</text><text x="808.5" y="329.2">45</text>
</g>
<g class="t" fill="#808080" text-anchor="end">
<text x="817" y="67">N</text><text x="818" y="105.7">NW</text><text x="817" y="144.5">W</text><text x="818" y="183.2">SW</text><text x="817" y="222">S</text><text x="818" y="260.7">SE</text><text x="817" y="299.5">E</text><text x="818" y="338.2">NE</text>
</g>
<g stroke="#000"><line x1="823" y1="55" x2="829" y2="55"/><line x1="823" y1="86" x2="829" y2="86"/><line x1="823" y1="117" x2="829" y2="117"/><line x1="823" y1="148" x2="829" y2="148"/><line x1="823" y1="179" x2="829" y2="179"/><line x1="823" y1="210" x2="829" y2="210"/><line x1="823" y1="241" x2="829" y2="241"/><line x1="823" y1="272" x2="829" y2="272"/><line x1="823" y1="303" x2="829" y2="303"/><line x1="823" y1="334" x2="829" y2="334"/><line x1="823" y1="365" x2="829" y2="365"/></g>
<g class="t"><text x="829.5" y="58">10</text><text x="829.5" y="89">9</text><text x="829.5" y="120">8</text><text x="829.5" y="151">7</text><text x="829.5" y="182">6</text><text x="829.5" y="213">5</text><text x="829.5" y="244">4</text><text x="829.5" y="275">3</text><text x="829.5" y="306">2</text><text x="829.5" y="337">1</text><text x="829.5" y="368">0</text></g>
<g stroke="#00bfff"><line x1="843" y1="55" x2="848" y2="55"/><line x1="843" y1="365" x2="848" y2="365"/></g>
<g class="t" fill="#00bfff"><text x="849" y="58">1</text><text x="849" y="368">0</text></g>
<g stroke="#ffff00"><line x1="858" y1="55" x2="863" y2="55"/><line x1="858" y1="117" x2="863" y2="117"/><line x1="858" y1="179" x2="863" y2="179"/><line x1="858" y1="241" x2="863" y2="241"/><line x1="858" y1="303" x2="863" y2="303"/><line x1="858" y1="365" x2="863" y2="365"/></g>
<g class="t" fill="#ffff00"><text x="864" y="58">5</text><text x="864" y="120">4</text><text x="864" y="182">3</text><text x="864" y="244">2</text><text x="864" y="306">1</text><text x="864" y="368">0</text></g>
<g stroke="#ff8000"><line x1="873" y1="210" x2="878" y2="210"/><line x1="873" y1="225.5" x2="878" y2="225.5"/><line x1="873" y1="241" x2="878" y2="241"/><line x1="873" y1="256.5" x2="878" y2="256.5"/><line x1="873" y1="272" x2="878" y2="272"/><line x1="873" y1="287.5" x2="878" y2="287.5"/><line x1="873" y1="303" x2="878" y2="303"/><line x1="873" y1="318.5" x2="878" y2="318.5"/><line x1="873" y1="334" x2="878" y2="334"/><line x1="873" y1="349.5" x2="878" y2="349.5"/><line x1="873" y1="365" x2="878" y2="365"/></g>
<g class="t" fill="#ff8000"><text x="878.5" y="213">1500</text><text x="878.5" y="228.5">1350</text><text x="878.5" y="244">1200</text><text x="878.5" y="259.5">1050</text><text x="878.5" y="275">900</text><text x="878.5" y="290.5">750</text><text x="878.5" y="306">600</text><text x="878.5" y="321.5">450</text><text x="878.5" y="337">300</text><text x="878.5" y="352.5">150</text><text x="878.5" y="368">0</text></g>
</svg>
</body></html>
